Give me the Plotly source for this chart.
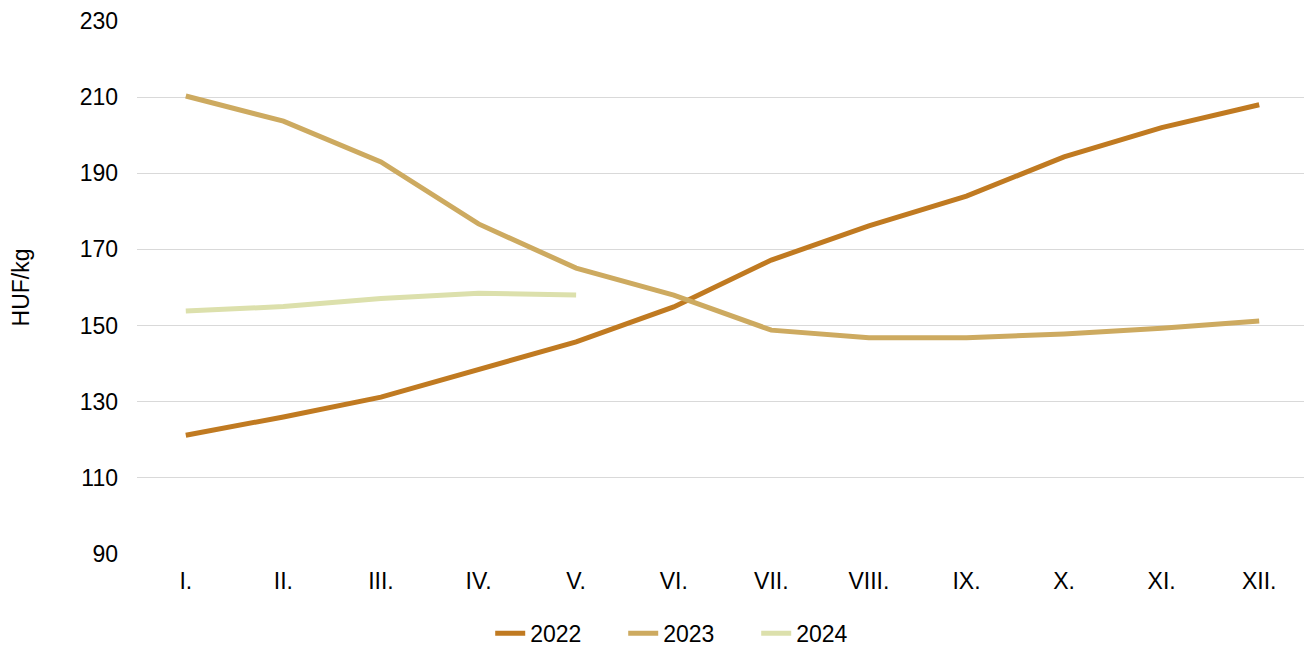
import plotly.graph_objects as go

months = ["I.", "II.", "III.", "IV.", "V.", "VI.", "VII.", "VIII.", "IX.", "X.", "XI.", "XII."]
y2022 = [121.2, 126.0, 131.2, 138.3, 145.7, 154.9, 167.2, 176.2, 184.0, 194.3, 202.0, 208.0]
y2023 = [210.3, 203.7, 193.0, 176.7, 165.1, 158.0, 148.8, 146.8, 146.8, 147.8, 149.3, 151.2]
y2024 = [153.8, 155.0, 157.1, 158.5, 158.0]
y_ticks = [90, 110, 130, 150, 170, 190, 210, 230]

series = [("2022", y2022, "#C07A21"), ("2023", y2023, "#CDAA60"), ("2024", y2024, "#DCE0AC")]

fig = go.Figure()
for name, vals, col in series:
    fig.add_trace(go.Scatter(x=months[:len(vals)], y=vals, name=name, mode="lines",
                             line=dict(color=col, width=5)))

fig.update_layout(
    width=1304, height=638,
    paper_bgcolor="white", plot_bgcolor="white",
    margin=dict(l=129, r=4, t=13, b=92, autoexpand=False),
    font=dict(family="Liberation Sans, Arial, sans-serif", size=23, color="#000000"),
    legend=dict(orientation="h", x=0.472, xanchor="center", yref="container", y=0.02,
                yanchor="middle", entrywidth=88,
                font=dict(size=23), traceorder="normal"),
    showlegend=True,
)
fig.update_xaxes(type="category", categoryorder="array", categoryarray=months,
                 range=[-0.5, 11.5],
                 showgrid=False, showline=False, zeroline=False, ticks="",
                 tickfont=dict(size=23), ticklabelstandoff=11)
fig.update_yaxes(range=[90, 230], tickvals=y_ticks, showgrid=True, gridcolor="#D9D9D9",
                 gridwidth=1.3, zeroline=False, showline=False, ticks="",
                 tickfont=dict(size=23), ticklabelstandoff=18,
                 title=dict(text="HUF/kg", font=dict(size=23), standoff=44))
fig.write_html("out.html")
